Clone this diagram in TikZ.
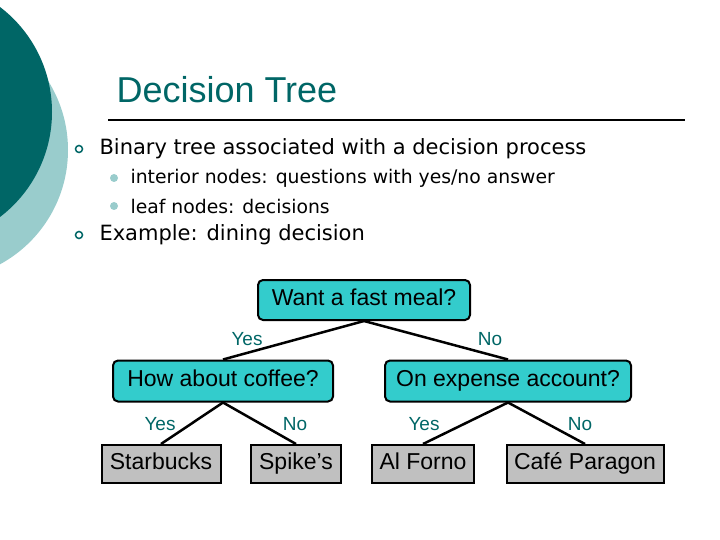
\documentclass[tikz,border=0pt]{standalone}
\usepackage{fontspec}
\setmainfont{DejaVu Sans}
\newfontfamily\arialf{Liberation Sans}
\definecolor{dteal}{HTML}{006666}
\definecolor{lteal}{HTML}{99CCCC}
\definecolor{cyanbox}{HTML}{33CCCC}
\definecolor{graybox}{HTML}{C0C0C0}
\begin{document}
\begin{tikzpicture}[x=1pt,y=-1pt,
  qbox/.style={draw=black,line width=2pt,fill=cyanbox,rounded corners=5pt,inner sep=0pt,text height=16pt,text depth=6pt,font=\arialf\fontsize{23}{25}\selectfont},
  leaf/.style={draw=black,line width=2pt,fill=graybox,inner sep=0pt,text height=16pt,text depth=6pt,font=\arialf\fontsize{23}{25}\selectfont},
  lab/.style={text=dteal,font=\arialf\fontsize{19}{21}\selectfont},
  edge/.style={line width=2.5pt}]
\useasboundingbox (0,0) rectangle (720,540);
\fill[lteal] (-62,150) circle (130);
\fill[dteal] (-80,112) circle (132);
\node[text=dteal,font=\arialf\fontsize{36}{40}\selectfont,anchor=west] (title) at (113,90) {Decision Tree};
\draw[line width=1.5pt] (108,120) -- (685,120);
\node[draw=dteal,line width=1.5pt,circle,minimum size=7pt,inner sep=0pt] (b1) at (79,149) {};
\node[anchor=west,font=\fontsize{21}{23}\selectfont] (t1) at (96,149) {Binary tree associated with a decision process};
\fill[lteal] (114,178) circle (4);
\node[anchor=west,font=\fontsize{18.8}{21}\selectfont] (t2) at (127,178) {interior nodes: questions with yes/no answer};
\fill[lteal] (114,206) circle (4);
\node[anchor=west,font=\fontsize{18.8}{21}\selectfont] (t3) at (127,206) {leaf nodes: decisions};
\node[draw=dteal,line width=1.5pt,circle,minimum size=7pt,inner sep=0pt] (b2) at (79,235) {};
\node[anchor=west,font=\fontsize{21}{23}\selectfont] (t4) at (96,235) {Example: dining decision};

\node[qbox,minimum width=212,minimum height=40] (root) at (364,300) {Want a fast meal?};
\node[qbox,minimum width=220,minimum height=41] (cof) at (223,381) {How about coffee?};
\node[qbox,minimum width=246,minimum height=41] (exp) at (508,381) {On expense account?};
\node[leaf,minimum width=119,minimum height=38] (sb) at (161,464) {Starbucks};
\node[leaf,minimum width=90,minimum height=38] (sp) at (296,464) {Spike’s};
\node[leaf,minimum width=102,minimum height=38] (af) at (423,464) {Al Forno};
\node[leaf,minimum width=157,minimum height=38] (cp) at (585,464) {Café Paragon};
\draw[edge] (root.south) -- (cof.north);
\draw[edge] (root.south) -- (exp.north);
\draw[edge] (cof.south) -- (sb.north);
\draw[edge] (cof.south) -- (sp.north);
\draw[edge] (exp.south) -- (af.north);
\draw[edge] (exp.south) -- (cp.north);
\node[lab] (l1) at (247,339) {Yes};
\node[lab] (l2) at (490,339) {No};
\node[lab] (l3) at (160,424) {Yes};
\node[lab] (l4) at (295,424) {No};
\node[lab] (l5) at (424,424) {Yes};
\node[lab] (l6) at (580,424) {No};
\end{tikzpicture}
\end{document}
